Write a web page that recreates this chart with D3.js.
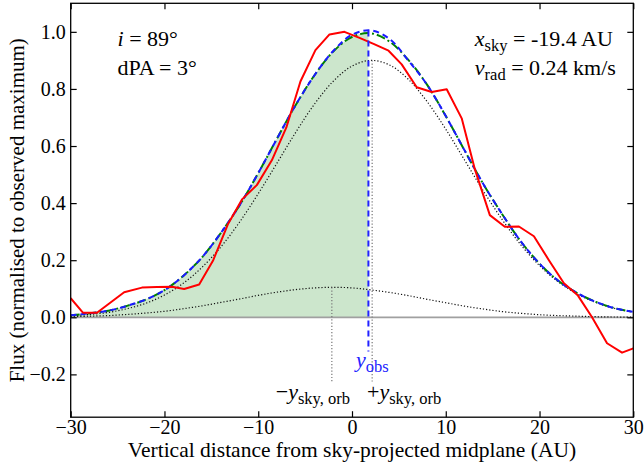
<!DOCTYPE html>
<html>
<head>
<meta charset="utf-8">
<script src="https://cdn.jsdelivr.net/npm/d3@7"></script>
<style>
  body { margin: 0; background: #fff; }
  svg { display: block; font-family: "Liberation Serif", "DejaVu Serif", serif; }
</style>
</head>
<body>
<div id="chart"></div>
<script>
////////////////////////////////////////////////////////////////////
////////////////////////////  Data  ////////////////////////////////
// model grid (AU)
const gridX = [-30, -28, -26, -24, -22, -20, -18, -16, -14, -12, -10, -8, -6, -4, -2,
  0, 2, 4, 6, 8, 10, 12, 14, 16, 18, 20, 22, 24, 26, 28, 30];

// fitted profile (blue dashed)
const fitFlux = [0.007, 0.014, 0.023, 0.04, 0.062, 0.095, 0.145, 0.21, 0.295, 0.392, 0.505,
  0.626, 0.744, 0.848, 0.933, 0.99, 1.005, 0.975, 0.9, 0.815, 0.705, 0.585, 0.467, 0.362,
  0.266, 0.188, 0.128, 0.085, 0.054, 0.032, 0.019];

// sum of both components (green dash-dot)
const sumFlux = [0.007, 0.014, 0.023, 0.04, 0.062, 0.095, 0.145, 0.21, 0.295, 0.392, 0.505,
  0.626, 0.744, 0.848, 0.931, 0.982, 0.995, 0.966, 0.902, 0.815, 0.705, 0.585, 0.467, 0.362,
  0.266, 0.188, 0.128, 0.085, 0.054, 0.032, 0.019];

// near-side component (dotted, big)
const nearFlux = [0.005, 0.01, 0.017, 0.03, 0.049, 0.078, 0.119, 0.175, 0.246, 0.333, 0.433,
  0.54, 0.648, 0.747, 0.827, 0.88, 0.9, 0.884, 0.834, 0.756, 0.659, 0.551, 0.443, 0.343,
  0.254, 0.181, 0.124, 0.082, 0.052, 0.031, 0.018];

// far-side component (dotted, small)
const farFlux = [0.002, 0.004, 0.006, 0.01, 0.015, 0.021, 0.03, 0.04, 0.052, 0.064, 0.077,
  0.088, 0.097, 0.103, 0.105, 0.103, 0.096, 0.087, 0.076, 0.063, 0.051, 0.039, 0.029, 0.02,
  0.014, 0.009, 0.006, 0.004, 0.002, 0.001, 0.001];

// observed profile (red)
const obsX = [-30, -28.7, -27.2, -24.3, -22.4, -20.8, -19.2, -17.9, -16.3, -14.8, -13.25,
  -11.7, -10.15, -8.55, -7.0, -5.5, -3.9, -2.4, -0.8, 0.8, 2.3, 3.9, 5.3, 6.9, 8.5, 10.1,
  11.7, 13.1, 14.7, 16.3, 17.8, 19.4, 21.0, 22.6, 24.1, 25.6, 27.2, 28.8, 30];
const obsFlux = [0.067, 0.016, 0.016, 0.088, 0.104, 0.106, 0.107, 0.099, 0.115, 0.2, 0.325,
  0.414, 0.463, 0.55, 0.665, 0.826, 0.936, 0.991, 1.0, 0.979, 0.958, 0.934, 0.886, 0.806,
  0.789, 0.799, 0.697, 0.519, 0.358, 0.317, 0.318, 0.284, 0.2, 0.119, 0.076, 0.0, -0.091,
  -0.124, -0.109];

const yObs = 1.75;
const ySkyOrb = 2.15;
const obsLineSpan = [-0.12, 1.005];
const nearPeak = 0.9;
const farPeak = 0.105;
const orbLineBottom = -0.23;

const xTicks = [-30, -20, -10, 0, 10, 20, 30];
const yTicks = [-0.2, 0, 0.2, 0.4, 0.6, 0.8, 1.0];

////////////////////////////////////////////////////////////////////
////////////////////////////  Init  ////////////////////////////////
const width = 644;
const height = 469;
const margin = { top: 3.3, right: 10.7, bottom: 51.8, left: 70.7 };

const svg = d3.select("#chart").append("svg")
  .attr("width", width)
  .attr("height", height);

const xScale = d3.scaleLinear().domain([-30, 30]).range([margin.left, width - margin.right]);
const yScale = d3.scaleLinear().domain([-0.35, 1.1]).range([height - margin.bottom, margin.top]);

const grid = gridX.map((x, i) => ({
  x, fit: fitFlux[i], sum: sumFlux[i], near: nearFlux[i], far: farFlux[i]
}));
const obs = obsX.map((x, i) => ({ x, y: obsFlux[i] }));

const curve = d3.curveCatmullRom.alpha(0.5);
const lineOf = (key) => d3.line().curve(curve).x((d) => xScale(d.x)).y((d) => yScale(d[key]));

// clip fill at y_obs
svg.append("clipPath").attr("id", "fill-clip")
  .append("rect")
  .attr("x", xScale(-30))
  .attr("y", margin.top)
  .attr("width", xScale(yObs) - xScale(-30))
  .attr("height", height - margin.top - margin.bottom);

svg.append("clipPath").attr("id", "plot-clip")
  .append("rect")
  .attr("x", margin.left)
  .attr("y", margin.top)
  .attr("width", width - margin.left - margin.right)
  .attr("height", height - margin.top - margin.bottom);

const plot = svg.append("g").attr("clip-path", "url(#plot-clip)");

// shaded area
plot.append("path")
  .datum(grid)
  .attr("clip-path", "url(#fill-clip)")
  .attr("fill", "green")
  .attr("fill-opacity", 0.2)
  .attr("d", d3.area().curve(curve)
    .x((d) => xScale(d.x))
    .y0(yScale(0))
    .y1((d) => yScale(d.sum)));

// zero line
plot.append("line")
  .attr("x1", margin.left).attr("x2", width - margin.right)
  .attr("y1", yScale(0)).attr("y2", yScale(0))
  .attr("stroke", "#a0a0a0")
  .attr("stroke-width", 1.7);

// components
["near", "far"].forEach((key) => {
  plot.append("path")
    .datum(grid)
    .attr("fill", "none")
    .attr("stroke", "#111")
    .attr("stroke-width", 1.2)
    .attr("stroke-dasharray", "1.2,2")
    .attr("d", lineOf(key));
});

// vertical markers
const vlines = svg.append("g");
vlines.append("line")
  .attr("x1", xScale(-ySkyOrb)).attr("x2", xScale(-ySkyOrb))
  .attr("y1", yScale(farPeak)).attr("y2", yScale(orbLineBottom))
  .attr("stroke", "#777").attr("stroke-width", 1.2).attr("stroke-dasharray", "1.2,2");
vlines.append("line")
  .attr("x1", xScale(ySkyOrb)).attr("x2", xScale(ySkyOrb))
  .attr("y1", yScale(nearPeak)).attr("y2", yScale(orbLineBottom))
  .attr("stroke", "#777").attr("stroke-width", 1.2).attr("stroke-dasharray", "1.2,2");
vlines.append("line")
  .attr("x1", xScale(yObs)).attr("x2", xScale(yObs))
  .attr("y1", yScale(obsLineSpan[1])).attr("y2", yScale(obsLineSpan[0]))
  .attr("stroke", "#2222ff").attr("stroke-width", 2).attr("stroke-dasharray", "6,4");

// model curves
plot.append("path")
  .datum(grid)
  .attr("fill", "none")
  .attr("stroke", "green")
  .attr("stroke-width", 2)
  .attr("stroke-dasharray", "9,3,2,3")
  .attr("d", lineOf("sum"));

plot.append("path")
  .datum(grid)
  .attr("fill", "none")
  .attr("stroke", "#1a1aff")
  .attr("stroke-width", 2)
  .attr("stroke-dasharray", "6,4")
  .attr("d", lineOf("fit"));

// observed
plot.append("path")
  .datum(obs)
  .attr("fill", "none")
  .attr("stroke", "red")
  .attr("stroke-width", 2)
  .attr("stroke-linejoin", "round")
  .attr("d", d3.line().x((d) => xScale(d.x)).y((d) => yScale(d.y)));

////////////////////////////////////////////////////////////////////
////////////////////////////  Axes  ////////////////////////////////
const tick = 6;
const axisStyle = (g) => {
  g.select(".domain").remove();
  g.selectAll(".tick line").attr("stroke", "#000").attr("stroke-width", 1.2);
  g.selectAll(".tick text")
    .attr("fill", "#000")
    .style("font-family", '"Liberation Serif", serif')
    .style("font-size", "20px");
};

svg.append("g")
  .attr("transform", `translate(0,${height - margin.bottom})`)
  .call(d3.axisBottom(xScale).tickValues(xTicks).tickSize(-tick).tickPadding(3).tickFormat(d3.format("d")))
  .call(axisStyle);
svg.append("g")
  .attr("transform", `translate(0,${margin.top})`)
  .call(d3.axisTop(xScale).tickValues(xTicks).tickSize(-tick).tickFormat(""))
  .call(axisStyle);
svg.append("g")
  .attr("transform", `translate(${margin.left},0)`)
  .call(d3.axisLeft(yScale).tickValues(yTicks).tickSize(-tick).tickPadding(5).tickFormat(d3.format(".1f")))
  .call(axisStyle);
svg.append("g")
  .attr("transform", `translate(${width - margin.right},0)`)
  .call(d3.axisRight(yScale).tickValues(yTicks).tickSize(-tick).tickFormat(""))
  .call(axisStyle);

// frame
svg.append("rect")
  .attr("x", margin.left).attr("y", margin.top)
  .attr("width", width - margin.left - margin.right)
  .attr("height", height - margin.top - margin.bottom)
  .attr("fill", "none")
  .attr("stroke", "#000")
  .attr("stroke-width", 1.3);

// axis labels
svg.append("text")
  .attr("x", (margin.left + width - margin.right) / 2)
  .attr("y", 456.7)
  .attr("text-anchor", "middle")
  .style("font-size", "21.5px")
  .text("Vertical distance from sky-projected midplane (AU)");

svg.append("text")
  .attr("transform", `translate(24,${(margin.top + height - margin.bottom) / 2}) rotate(-90)`)
  .attr("text-anchor", "middle")
  .style("font-size", "21px")
  .text("Flux (normalised to observed maximum)");

////////////////////////////////////////////////////////////////////
////////////////////////////  Labels  //////////////////////////////
// parts: [text, kind] with kind "i" italic, "s" subscript, "" roman
function mathLabel(x, y, parts, opts = {}) {
  const t = svg.append("text")
    .attr("x", x).attr("y", y)
    .attr("text-anchor", opts.anchor || "start")
    .attr("fill", opts.color || "#000")
    .style("font-size", (opts.size || 22) + "px");
  let shifted = false;
  parts.forEach(([s, kind]) => {
    const span = t.append("tspan").text(s);
    if (kind === "i") span.style("font-style", "italic");
    if (kind === "s") {
      span.style("font-size", "75%");
      if (!shifted) { span.attr("dy", 5); shifted = true; }
    } else if (shifted) {
      span.attr("dy", -5);
      shifted = false;
    }
  });
  return t;
}

mathLabel(xScale(-25), yScale(0.95), [["i", "i"], [" = 89°", ""]]);
mathLabel(xScale(-25), yScale(0.85), [["dPA = 3°", ""]]);
mathLabel(xScale(13.1), yScale(0.95), [["x", "i"], ["sky", "s"], [" = -19.4 AU", ""]]);
mathLabel(xScale(13.1), yScale(0.85), [["v", "i"], ["rad", "s"], [" = 0.24 km/s", ""]]);

mathLabel(xScale(yObs) + 4, yScale(-0.173), [["y", "i"], ["obs", "s"]],
  { anchor: "middle", color: "#2222ff" });
mathLabel(xScale(0) - 2, yScale(-0.286), [["−", ""], ["y", "i"], ["sky, orb", "s"]],
  { anchor: "end" });
mathLabel(xScale(1.6), yScale(-0.286), [["+", ""], ["y", "i"], ["sky, orb", "s"]]);
</script>
</body>
</html>
